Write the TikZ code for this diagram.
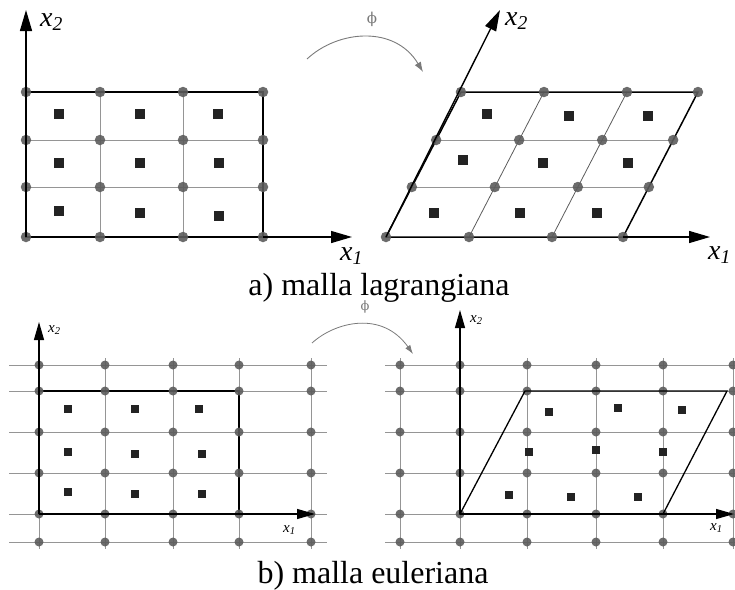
\documentclass[tikz,border=0pt]{standalone}
\usepackage{fontspec}
\setmainfont{Liberation Serif}
\newfontfamily\greekfont{DejaVu Serif}
\usetikzlibrary{arrows.meta,calc,positioning}
\definecolor{dotgray}{HTML}{5C5C5C}
\definecolor{linegray}{HTML}{959595}
\definecolor{phigray}{HTML}{7A7A7A}
\definecolor{cellblack}{HTML}{232323}
\tikzset{
  meshdot/.style={circle,fill=dotgray,fill opacity=0.9,inner sep=0pt,minimum size=10.5pt},
  smalldot/.style={meshdot,minimum size=9pt},
  cell/.style={rectangle,fill=cellblack,inner sep=0pt,minimum size=10.5pt},
  smallcell/.style={cell,minimum size=8.5pt},
  gridline/.style={linegray,line width=1pt},
  border/.style={black,line width=1.5pt},
  axis/.style={black,line width=1.4pt,-{Triangle[length=21pt,width=12pt]}},
  smallaxis/.style={black,line width=1.2pt,-{Triangle[length=18pt,width=10pt]}},
  maparrow/.style={phigray,line width=0.9pt,-{Latex[length=10pt,width=7pt]}},
  philabel/.style={text=phigray,inner sep=0pt},
  biglabel/.style={anchor=base west,inner sep=0pt,font=\fontsize{28}{30}\selectfont},
  smalllabel/.style={anchor=base west,inner sep=0pt,font=\fontsize{15}{17}\selectfont},
  caption/.style={anchor=base,inner sep=0pt,font=\fontsize{32}{36}\selectfont}
}

\begin{document}
\begin{tikzpicture}[x=1pt,y=-1pt]
  \useasboundingbox (0,0) rectangle (735,589);

  % a) lagrangian mesh, reference configuration
  \foreach \x [count=\i] in {26,100,183,263}
    \foreach \y [count=\j] in {92,140,187,237}
      \coordinate (l\i\j) at (\x,\y);
  \foreach \j in {2,3} \draw[gridline] (l1\j) -- (l4\j);
  \foreach \i in {2,3} \draw[gridline] (l\i1) -- (l\i4);
  \draw[border] (l11) rectangle (l44);
  \foreach \i in {1,...,4}
    \foreach \j in {1,...,4}
      \node[meshdot] (dl\i\j) at (l\i\j) {};
  \foreach \p [count=\k] in {(59,114),(140,114),(218,114),(59,163),(140,163),(219,163),(59,211),(140,213),(219,216)}
    \node[cell] (cl\k) at \p {};
  \coordinate (lx2) at (26,10);
  \coordinate (lx1) at (352,237);
  \draw[axis] (l44) -- (lx1);
  \draw[axis] (l14) -- (lx2);
  \node[biglabel] (lab-lx2) at (40,26) {\textit{x}\textsubscript{\textit{2}}};
  \node[biglabel] (lab-lx1) at (340,260) {\textit{x}\textsubscript{\textit{1}}};

  % a) lagrangian mesh, deformed (sheared) configuration
  \foreach \u [count=\i] in {0,83,166,237}
    \foreach \y [count=\j] in {92,140,187,237}
      \coordinate (r\i\j) at ({386+\u+0.517*(237-\y)},\y);
  \foreach \j in {2,3} \draw[gridline] (r1\j) -- (r4\j);
  \foreach \i in {2,3} \draw[gridline,dotgray,line width=0.8pt] (r\i1) -- (r\i4);
  \draw[border] (r14) -- (r44) -- (r41) -- (r11) -- cycle;
  \foreach \i in {1,...,4}
    \foreach \j in {1,...,4}
      \node[meshdot] (dr\i\j) at (r\i\j) {};
  \foreach \p [count=\k] in {(487,114),(569,116),(648,116),(463,160),(543,163),(628,163),(434,213),(520,213),(597,213)}
    \node[cell] (cr\k) at \p {};
  \coordinate (rx2) at (500,10);
  \coordinate (rx1) at (710,237);
  \draw[axis] (r44) -- (rx1);
  \draw[axis] (r14) -- (rx2);
  \node[biglabel] (lab-rx2) at (505,25) {\textit{x}\textsubscript{\textit{2}}};
  \node[biglabel] (lab-rx1) at (708,259) {\textit{x}\textsubscript{\textit{1}}};

  % map phi
  \coordinate (pa1) at (307,59);
  \coordinate (pa2) at (423,72);
  \draw[maparrow] (pa1) .. controls (338,30) and (395,25) .. (pa2);
  \node[philabel,font=\greekfont\fontsize{15}{16}\selectfont] (phi-a) at (372,19) {ϕ};

  \node[caption] (cap-a) at (379,295) {a) malla lagrangiana};

  % b) eulerian mesh, reference configuration
  \foreach \x [count=\i] in {39,105,173,239,311}
    \foreach \y [count=\j] in {365,391,432,473,514,542}
      \coordinate (e\i\j) at (\x,\y);
  \foreach \j in {1,...,6} \draw[gridline] ($(e1\j)+(-30,0)$) -- ($(e5\j)+(16,0)$);
  \foreach \i in {1,...,5} \draw[gridline] ($(e\i1)+(0,-7)$) -- ($(e\i6)+(0,7)$);
  \draw[border,line width=1.3pt] (e12) rectangle (e45);
  \foreach \i in {1,...,5}
    \foreach \j in {1,...,6}
      \node[smalldot] (de\i\j) at (e\i\j) {};
  \foreach \p [count=\k] in {(68,409),(135,409),(199,409),(68,452),(135,454),(202,454),(68,492),(135,494),(202,494)}
    \node[smallcell] (ce\k) at \p {};
  \coordinate (ex2) at (39,322);
  \coordinate (ex1) at (315,514);
  \draw[smallaxis] (e15) -- (ex1);
  \draw[smallaxis] (e15) -- (ex2);
  \node[smalllabel] (lab-ex2) at (48,332) {\textit{x}\textsubscript{\textit{2}}};
  \node[smalllabel] (lab-ex1) at (283,532) {\textit{x}\textsubscript{\textit{1}}};

  % b) eulerian mesh, deformed configuration on the fixed grid
  \foreach \x [count=\i] in {400,460,527,596,663,733}
    \foreach \y [count=\j] in {365,391,432,473,514,542}
      \coordinate (f\i\j) at (\x,\y);
  \foreach \j in {1,...,6} \draw[gridline] ($(f1\j)+(-15,0)$) -- ($(f6\j)+(4,0)$);
  \foreach \i in {1,...,6} \draw[gridline] ($(f\i1)+(0,-7)$) -- ($(f\i6)+(0,7)$);
  \foreach \i in {1,...,6}
    \foreach \j in {1,...,6}
      \node[smalldot] (df\i\j) at (f\i\j) {};
  \coordinate (pq3) at (727,391);
  \coordinate (pq4) at (525,391);
  \draw[border,line width=1.3pt] (f25) -- (f55) -- (pq3) -- (pq4) -- cycle;
  \foreach \p [count=\k] in {(549,412),(618,408),(682,410),(529,452),(596,450),(663,452),(509,495),(571,497),(638,497)}
    \node[smallcell] (cf\k) at \p {};
  \coordinate (fx2) at (460,310);
  \coordinate (fx1) at (734,514);
  \draw[smallaxis] (f25) -- (fx1);
  \draw[smallaxis] (f25) -- (fx2);
  \node[smalllabel] (lab-fx2) at (470,322) {\textit{x}\textsubscript{\textit{2}}};
  \node[smalllabel] (lab-fx1) at (710,530) {\textit{x}\textsubscript{\textit{1}}};

  % map phi
  \coordinate (pb1) at (312,343);
  \coordinate (pb2) at (413,354);
  \draw[maparrow,line width=0.8pt,-{Latex[length=9pt,width=6pt]}] (pb1) .. controls (335,322) and (382,310) .. (pb2);
  \node[philabel,font=\greekfont\fontsize{13}{14}\selectfont] (phi-b) at (365,307) {ϕ};

  \node[caption] (cap-b) at (373,583) {b) malla euleriana};
\end{tikzpicture}
\end{document}
